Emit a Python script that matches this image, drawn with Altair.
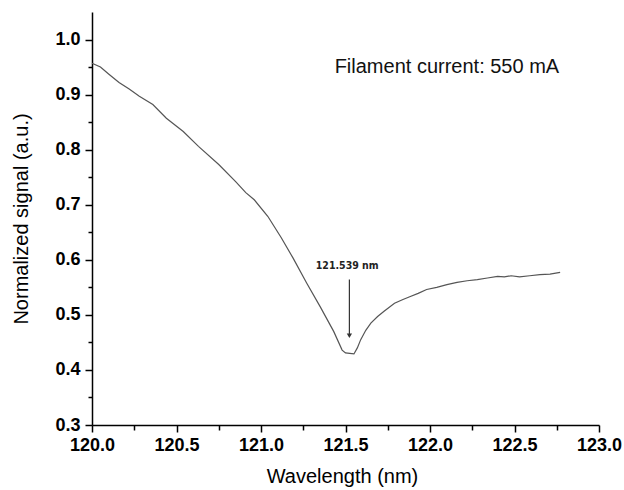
import altair as alt
import pandas as pd

# Wavelength (nm) and normalized signal
wavelength = [120.00, 120.05, 120.10, 120.16, 120.22, 120.28, 120.36, 120.44, 120.54, 120.63,
              120.75, 120.85, 120.91, 120.96, 121.04, 121.12, 121.19, 121.27, 121.35, 121.43,
              121.48, 121.50, 121.55, 121.57, 121.59, 121.62, 121.65, 121.69, 121.73, 121.79,
              121.84, 121.88, 121.93, 121.98, 122.04, 122.10, 122.16, 122.22, 122.28, 122.34,
              122.40, 122.44, 122.48, 122.53, 122.59, 122.65, 122.71, 122.77]
signal = [0.957, 0.950, 0.937, 0.922, 0.910, 0.897, 0.882, 0.857, 0.833, 0.806,
          0.773, 0.742, 0.722, 0.709, 0.679, 0.640, 0.603, 0.558, 0.515, 0.470,
          0.436, 0.431, 0.429, 0.440, 0.455, 0.472, 0.485, 0.497, 0.507, 0.521,
          0.528, 0.533, 0.539, 0.546, 0.550, 0.555, 0.559, 0.562, 0.564, 0.567,
          0.570, 0.569, 0.571, 0.569, 0.571, 0.573, 0.574, 0.577]

x_major = [120.0, 120.5, 121.0, 121.5, 122.0, 122.5, 123.0]
x_minor = [120.25, 120.75, 121.25, 121.75, 122.25, 122.75]
y_major = [0.3, 0.4, 0.5, 0.6, 0.7, 0.8, 0.9, 1.0]
y_minor = [0.35, 0.45, 0.55, 0.65, 0.75, 0.85, 0.95]

peak_label = ["121.539 nm"]
peak_label_x = [121.51]
peak_label_y = [0.588]
arrow_x = [121.523]
arrow_top = [0.564]
arrow_bottom = [0.462]

note = ["Filament current: 550 mA"]
note_x = [122.10]
note_y = [0.951]

df = pd.DataFrame({"wl": wavelength, "sig": signal})

W, H = 507, 413
xs = alt.Scale(domain=[120, 123], nice=False, zero=False)
ys = alt.Scale(domain=[0.3, 1.05], nice=False, zero=False)

major_x = alt.Axis(values=x_major, format=".1f", title="Wavelength (nm)", grid=False,
                   orient="bottom", domainColor="black", domainWidth=1.5,
                   tickColor="black", tickWidth=1.5, tickSize=7, labelPadding=4,
                   labelFont="Liberation Sans", labelFontSize=18, labelFontWeight="bold",
                   labelColor="black", titleFont="Liberation Sans", titleFontSize=20,
                   titleFontWeight="normal", titleColor="black", titleX=250, titleY=51,
                   titleAlign="center", titleBaseline="middle", labelOverlap=False,
                   labelFlush=False, labelBound=False, labelAlign="center")
major_y = alt.Axis(values=y_major, format=".1f", title="Normalized signal (a.u.)", grid=False,
                   orient="left", domainColor="black", domainWidth=1.5,
                   tickColor="black", tickWidth=1.5, tickSize=7, labelPadding=5,
                   labelFont="Liberation Sans", labelFontSize=18, labelFontWeight="bold",
                   labelColor="black", titleFont="Liberation Sans", titleFontSize=20,
                   titleFontWeight="normal", titleColor="black", titleX=-71, titleY=H / 2,
                   titleAngle=270, titleAlign="center", titleBaseline="middle",
                   labelOverlap=False, labelFlush=False, labelBound=False,
                   labelBaseline="middle")
minor_x = alt.Axis(values=x_minor, labels=False, title=None, grid=False, domain=False,
                   orient="bottom", tickColor="black", tickWidth=1.5, tickSize=5)
minor_y = alt.Axis(values=y_minor, labels=False, title=None, grid=False, domain=False,
                   orient="left", tickColor="black", tickWidth=1.5, tickSize=4)

line = alt.Chart(df).mark_line(color="#555555", strokeWidth=1.2).encode(
    x=alt.X("wl:Q", scale=xs, axis=major_x),
    y=alt.Y("sig:Q", scale=ys, axis=major_y),
)
minor = alt.Chart(df).mark_line(opacity=0).encode(
    x=alt.X("wl:Q", scale=xs, axis=minor_x),
    y=alt.Y("sig:Q", scale=ys, axis=minor_y),
)

lab_df = pd.DataFrame({"t": peak_label, "x": peak_label_x, "y": peak_label_y})
peak_text = alt.Chart(lab_df).mark_text(font="DejaVu Sans Condensed", fontSize=10.5,
                                        fontWeight="bold", color="#222222",
                                        baseline="middle", align="center").encode(
    x=alt.X("x:Q", scale=xs, axis=None), y=alt.Y("y:Q", scale=ys, axis=None), text="t:N")

arr_df = pd.DataFrame({"x": arrow_x, "y1": arrow_top, "y2": arrow_bottom})
shaft = alt.Chart(arr_df).mark_rule(color="#333333", strokeWidth=1.2).encode(
    x=alt.X("x:Q", scale=xs, axis=None), y=alt.Y("y1:Q", scale=ys, axis=None), y2="y2:Q")
head = alt.Chart(arr_df).mark_point(shape="triangle-down", filled=True, size=28,
                                    color="#333333", opacity=1).encode(
    x=alt.X("x:Q", scale=xs, axis=None), y=alt.Y("y2:Q", scale=ys, axis=None))

note_df = pd.DataFrame({"t": note, "x": note_x, "y": note_y})
note_text = alt.Chart(note_df).mark_text(font="Liberation Sans", fontSize=20, color="#111111",
                                         baseline="middle", align="center").encode(
    x=alt.X("x:Q", scale=xs, axis=None), y=alt.Y("y:Q", scale=ys, axis=None), text="t:N")

chart = alt.layer(line, minor, shaft, head, peak_text, note_text).resolve_axis(
    x="independent", y="independent"
).properties(
    width=W, height=H,
    autosize=alt.AutoSizeParams(type="none"),
    padding={"left": 92, "top": 12, "right": 25, "bottom": 65},
    background="white",
).configure_view(stroke=None).configure_axis(labelFlush=False)

chart.save("out.html", embed_options={"renderer": "svg", "actions": False})
